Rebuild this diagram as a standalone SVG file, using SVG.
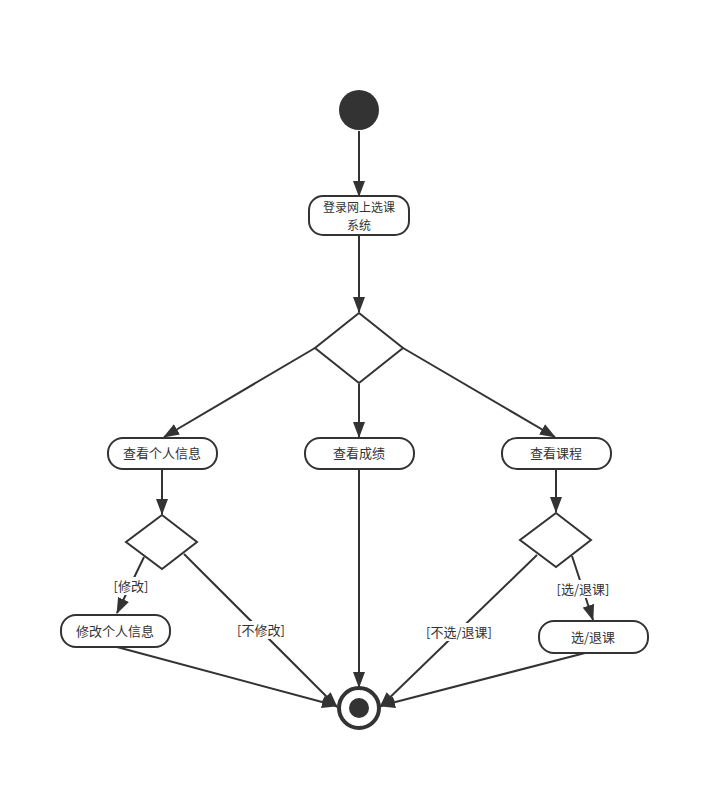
<svg xmlns="http://www.w3.org/2000/svg" width="710" height="790" viewBox="0 0 710 790">
<style>
.node{fill:#fff;stroke:#333;stroke-width:2}
.dia{fill:#fff;stroke:#333;stroke-width:2}
.t{font-family:"Noto Sans CJK SC","Liberation Sans",sans-serif;font-size:13px;fill:#333;text-anchor:middle}
.e{stroke:#333;stroke-width:2;fill:none;marker-end:url(#arr)}
.lbg{fill:#fff}
</style>
<defs>
<marker id="arr" markerUnits="userSpaceOnUse" markerWidth="16" markerHeight="12" refX="15" refY="6" orient="auto">
<path d="M0,0 L16,6 L0,12 Z" fill="#333"/>
</marker>
</defs>
<rect width="710" height="790" fill="#fff"/>
<g id="connectors">
<line class="e" x1="359" y1="131" x2="359" y2="196"/>
<line class="e" x1="359" y1="236" x2="359" y2="312"/>
<line class="e" x1="315" y1="348" x2="164" y2="437"/>
<line class="e" x1="359" y1="384" x2="359" y2="437"/>
<line class="e" x1="403" y1="348" x2="555" y2="437"/>
<line class="e" x1="162" y1="470" x2="162" y2="514"/>
<line class="e" x1="556" y1="470" x2="556" y2="512"/>
<line class="e" x1="144" y1="557" x2="117" y2="613"/>
<line class="e" x1="184" y1="554" x2="337" y2="707"/>
<line class="e" x1="537" y1="555" x2="380" y2="707"/>
<line class="e" x1="572" y1="556" x2="593" y2="620"/>
<line class="e" x1="117" y1="647" x2="337" y2="706"/>
<line class="e" x1="585" y1="653" x2="380" y2="706"/>
<line class="e" x1="359" y1="470" x2="359" y2="687"/>
<rect class="lbg" x="113" y="577" width="37" height="18"/>
<text class="t" x="131" y="591">[修改]</text>
<rect class="lbg" x="236" y="621" width="50" height="18"/>
<text class="t" x="261" y="635">[不修改]</text>
<rect class="lbg" x="425" y="623" width="68" height="18"/>
<text class="t" x="459" y="637">[不选/退课]</text>
<rect class="lbg" x="556" y="580" width="55" height="18"/>
<text class="t" x="583" y="594">[选/退课]</text>
</g>
<g id="start"><circle cx="359" cy="110" r="20" fill="#333"/></g>
<g id="login"><rect class="node" x="309" y="196" width="100" height="39" rx="14"/>
<text class="t" style="font-size:12px" x="359" y="211.5">登录网上选课</text><text class="t" style="font-size:12px" x="359" y="229.5">系统</text></g>
<g id="decision1"><polygon class="dia" points="359,313 403,348 359,383 315,348"/></g>
<g id="viewInfo"><rect class="node" x="108" y="438" width="109" height="31" rx="15"/><text class="t" x="162" y="458">查看个人信息</text></g>
<g id="viewScore"><rect class="node" x="305" y="438" width="109" height="31" rx="15"/><text class="t" x="359" y="458">查看成绩</text></g>
<g id="viewCourse"><rect class="node" x="502" y="438" width="109" height="31" rx="15"/><text class="t" x="556" y="458">查看课程</text></g>
<g id="decision2"><polygon class="dia" points="162,515 197,542 162,569 126,542"/></g>
<g id="decision3"><polygon class="dia" points="556,513 591,540 556,567 520,540"/></g>
<g id="editInfo"><rect class="node" x="61" y="615" width="109" height="32" rx="15"/><text class="t" x="115" y="636">修改个人信息</text></g>
<g id="selectCourse"><rect class="node" x="539" y="621" width="109" height="32" rx="15"/><text class="t" x="593" y="642">选/退课</text></g>
<g id="end"><circle cx="359" cy="708" r="20" fill="#fff" stroke="#333" stroke-width="4"/><circle cx="359" cy="708" r="10" fill="#333"/></g>
</svg>
